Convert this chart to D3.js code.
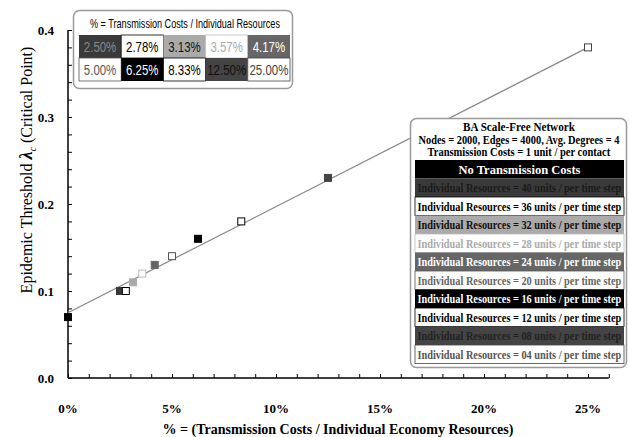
<!DOCTYPE html>
<html>
<head>
<meta charset="utf-8">
<script src="https://cdn.jsdelivr.net/npm/d3@7"></script>
<style>
  body { margin: 0; background: #fff; }
  svg { display: block; }
  .serif { font-family: "Liberation Serif", "Times New Roman", serif; font-weight: bold; }
  .narrow { font-family: "Liberation Sans Narrow", "Arial Narrow", "Liberation Sans", Arial, sans-serif; }
</style>
</head>
<body>
<svg id="chart" width="629" height="437"></svg>
<script>
// data
var ratios = [0, 0.025, 0.0278, 0.0313, 0.0357, 0.0417, 0.05, 0.0625, 0.0833, 0.125, 0.25];
var thresholds = [0.07, 0.10, 0.10, 0.11, 0.12, 0.13, 0.14, 0.16, 0.18, 0.23, 0.38];
var markerFill = ["#000", "#3a3a3a", "#fff", "#aaa", "#fff", "#666", "#fff", "#000", "#fff", "#444", "#fff"];
var markerStroke = ["#000", "#3a3a3a", "#000", "#aaa", "#bbb", "#666", "#555", "#000", "#000", "#444", "#444"];
var fitLine = [[0, 0.075], [0.25, 0.38]];

var legendRows = ["No Transmission Costs",
  "Individual Resources = 40 units / per time step",
  "Individual Resources = 36 units / per time step",
  "Individual Resources = 32 units / per time step",
  "Individual Resources = 28 units / per time step",
  "Individual Resources = 24 units / per time step",
  "Individual Resources = 20 units / per time step",
  "Individual Resources = 16 units / per time step",
  "Individual Resources = 12 units / per time step",
  "Individual Resources = 08 units / per time step",
  "Individual Resources = 04 units / per time step"];
var legendText = ["#fff", "#1a1a1a", "#000", "#111", "#aaa", "#fff", "#666", "#fff", "#000", "#222", "#555"];

var pctLabels = ["2.50%", "2.78%", "3.13%", "3.57%", "4.17%", "5.00%", "6.25%", "8.33%", "12.50%", "25.00%"];
var pctText = ["#888", "#000", "#111", "#aaa", "#fff", "#555", "#fff", "#000", "#111", "#444"];

var xTicks = [0, 0.05, 0.10, 0.15, 0.20, 0.25];
var yTicks = [0, 0.1, 0.2, 0.3, 0.4];

var svg = d3.select("#chart");

var x = d3.scaleLinear().domain([0, 0.26]).range([68, 608.8]);
var y = d3.scaleLinear().domain([0, 0.4]).range([378, 30]);

// squeeze a text horizontally so it fits a given width (condensed look)
function squeeze(sel, tx, ty, width, anchor) {
  sel.each(function () {
    var w = this.getComputedTextLength();
    var s = Math.min(1, width / w);
    var dx = anchor === "middle" ? -w * s / 2 : 0;
    d3.select(this).attr("x", 0).attr("y", 0)
      .attr("transform", "translate(" + (tx + dx) + "," + ty + ") scale(" + s + ",1)");
  });
}

// axes: ticks point inward
var xAxis = svg.append("g").attr("transform", "translate(0,378)")
  .call(d3.axisBottom(x).tickValues(d3.range(0, 0.2601, 0.01)).tickSize(-4).tickFormat(""));
xAxis.select(".domain").attr("stroke", "#000").attr("stroke-width", 1.5).attr("d", "M68,0H608.8");
xAxis.selectAll(".tick line").attr("stroke", "#000");

var yAxis = svg.append("g").attr("transform", "translate(68,0)")
  .call(d3.axisLeft(y).tickValues(d3.range(0, 0.4001, 0.02)).tickSize(-4).tickFormat(""));
yAxis.select(".domain").attr("stroke", "#000").attr("stroke-width", 1.5).attr("d", "M0,378V30");
yAxis.selectAll(".tick line").attr("stroke", "#000");

svg.append("g").selectAll("text").data(xTicks).enter().append("text")
  .attr("class", "serif").attr("font-size", 13)
  .attr("x", d => x(d)).attr("y", 413).attr("text-anchor", "middle")
  .text(d => d3.format(".0%")(d));

svg.append("g").selectAll("text").data(yTicks).enter().append("text")
  .attr("class", "serif").attr("font-size", 13)
  .attr("x", 54).attr("y", d => y(d) + 5).attr("text-anchor", "end")
  .text(d => d3.format(".1f")(d));

// axis titles
svg.append("text").attr("class", "serif").attr("font-size", 14)
  .attr("x", 338).attr("y", 434).attr("text-anchor", "middle")
  .text("% = (Transmission Costs / Individual Economy Resources)");

var yt = svg.append("text").attr("font-family", "'Liberation Serif', 'Times New Roman', serif").attr("font-size", 16)
  .attr("transform", "translate(32,170) rotate(-90)").attr("text-anchor", "middle");
yt.append("tspan").text("Epidemic Threshold ");
yt.append("tspan").attr("font-style", "italic").attr("font-weight", "bold").attr("font-size", 18).text("λ");
yt.append("tspan").attr("font-style", "italic").attr("font-size", 10).attr("dy", 4).text("c");
yt.append("tspan").attr("dy", -4).text(" (Critical Point)");

// fitted line
svg.append("path").datum(fitLine)
  .attr("d", d3.line().x(d => x(d[0])).y(d => y(d[1])))
  .attr("fill", "none").attr("stroke", "#888").attr("stroke-width", 1.2);

// markers
svg.append("g").selectAll("rect").data(ratios).enter().append("rect")
  .attr("x", d => x(d) - 3.5).attr("y", (d, i) => y(thresholds[i]) - 3.5)
  .attr("width", 7).attr("height", 7)
  .attr("fill", (d, i) => markerFill[i]).attr("stroke", (d, i) => markerStroke[i]).attr("stroke-width", 1);

// legend 1: percentage table
var l1 = svg.append("g");
l1.append("rect").attr("x", 73.5).attr("y", 10.5).attr("width", 219).attr("height", 78).attr("rx", 6)
  .attr("fill", "#fff").attr("stroke", "#999").attr("stroke-width", 1.5);
l1.append("text").attr("class", "narrow").attr("font-size", 13)
  .text("% = Transmission Costs / Individual Resources")
  .call(squeeze, 185, 28, 190, "middle");
var cw = 42.2, ch = 23;
var cells = l1.selectAll("g.cell").data(pctLabels).enter().append("g")
  .attr("transform", (d, i) => "translate(" + (79 + (i % 5) * cw) + "," + (35 + Math.floor(i / 5) * ch) + ")");
cells.append("rect").attr("width", cw).attr("height", ch)
  .attr("fill", (d, i) => markerFill[i + 1])
  .attr("stroke", (d, i) => markerFill[i + 1] === "#fff" ? markerStroke[i + 1] : "none").attr("stroke-width", 0.8);
cells.append("text").attr("class", "narrow").attr("font-size", 15)
  .attr("fill", (d, i) => pctText[i]).text(d => d)
  .each(function (d) { d3.select(this).call(squeeze, cw / 2, 17, d.length * 6.5, "middle"); });

// legend 2: network description
var l2 = svg.append("g");
l2.append("rect").attr("x", 410.5).attr("y", 118.5).attr("width", 216).attr("height", 249).attr("rx", 6)
  .attr("fill", "#fff").attr("stroke", "#999").attr("stroke-width", 1.5);
var head = ["BA Scale-Free Network", "Nodes = 2000, Edges = 4000, Avg. Degrees = 4", "Transmission Costs = 1 unit / per contact"];
var headW = [112, 201, 183];
l2.selectAll("text.head").data(head).enter().append("text")
  .attr("class", "serif").attr("font-size", 12).text(d => d)
  .each(function (d, i) { d3.select(this).call(squeeze, 519, 131 + i * 12.5, headW[i], "middle"); });
var rh = 18.5;
var rows = l2.selectAll("g.row").data(legendRows).enter().append("g")
  .attr("transform", (d, i) => "translate(415," + (160 + i * rh) + ")");
rows.append("rect").attr("width", 209).attr("height", rh)
  .attr("fill", (d, i) => markerFill[i])
  .attr("stroke", (d, i) => markerFill[i] === "#fff" ? markerStroke[i] : "none").attr("stroke-width", 0.8);
rows.append("text").attr("class", "serif").attr("font-size", 13.5)
  .attr("fill", (d, i) => legendText[i]).text(d => d)
  .each(function (d, i) {
    if (i === 0) d3.select(this).call(squeeze, 104.5, 13.5, 122, "middle");
    else d3.select(this).call(squeeze, 2.5, 13.5, 204, "start");
  });
</script>
</body>
</html>
